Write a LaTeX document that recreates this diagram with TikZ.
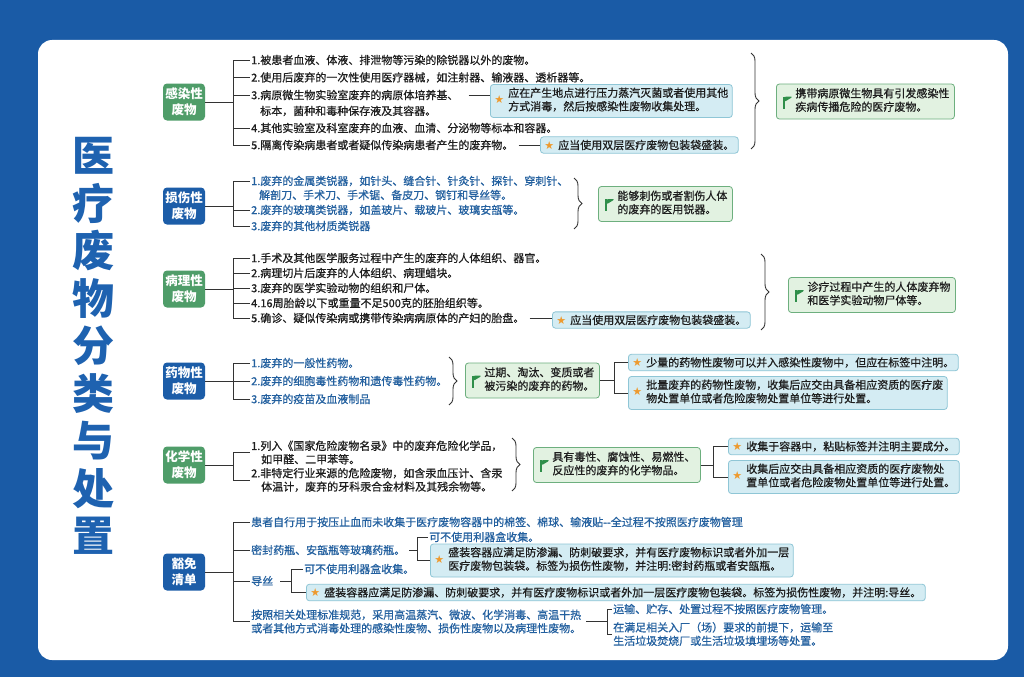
\documentclass[tikz,border=0pt]{standalone}
\usepackage{fontspec}
\newfontfamily\cjk{Noto Sans CJK SC}
\newfontfamily\cjkm{Noto Sans CJK SC}[FakeBold=0.7]
\newfontfamily\sym{DejaVu Sans}
\usetikzlibrary{decorations.pathreplacing}
\definecolor{bgblue}{HTML}{1A5BA6}
\definecolor{titleblue}{HTML}{1E62B0}
\definecolor{catgreen}{HTML}{4F9D69}
\definecolor{catblue}{HTML}{1C5DA8}
\definecolor{itemblue}{HTML}{23609F}
\definecolor{itemblack}{HTML}{1E1E1E}
\definecolor{notefill}{HTML}{D4ECF3}
\definecolor{notebord}{HTML}{8FC6D6}
\definecolor{flagfill}{HTML}{E2F2E1}
\definecolor{flagbord}{HTML}{6DAF7E}
\definecolor{flagc}{HTML}{2F8F4A}
\definecolor{starc}{HTML}{EE9A2E}
\definecolor{linec}{HTML}{333333}
\newcommand\staricon{{\sym\color{starc}★}\hspace{4pt}}
\newcommand\twol[2]{\begin{tabular}{@{}l@{}}#1\\#2\end{tabular}}
\tikzset{
  cat/.style={rounded corners=4pt, minimum width=42pt, minimum height=37pt, inner sep=1pt,
    align=center, text=white, font=\cjk\bfseries\fontsize{12.5}{16}\selectfont},
  catg/.style={cat, fill=catgreen},
  catb/.style={cat, fill=catblue},
  item/.style={anchor=west, inner sep=1pt, align=left, text=itemblack,
    font=\cjkm\fontsize{11}{13.5}\selectfont},
  itemb/.style={item, text=itemblue},
  note/.style={anchor=west, draw=notebord, fill=notefill, rounded corners=3pt, line width=0.8pt,
    inner xsep=4pt, inner ysep=3pt, align=left, text=itemblack, font=\cjkm\fontsize{11}{13.5}\selectfont},
  flagbox/.style={anchor=west, draw=flagbord, fill=flagfill, rounded corners=3pt, line width=0.8pt,
    inner xsep=5pt, inner ysep=4pt, align=left, text=itemblack, font=\cjkm\fontsize{11}{13.5}\selectfont,
    path picture={
      \fill[flagc] ([xshift=7pt,yshift=5pt]path picture bounding box.west) -- ++(10pt,0pt) -- ++(-10pt,-6pt) -- cycle;
      \draw[flagc, line width=1.3pt] ([xshift=7.5pt,yshift=5pt]path picture bounding box.west) -- ++(0pt,-12pt);}},
  link/.style={line width=1pt, draw=linec},
  brc/.style={decorate, decoration={brace, amplitude=8pt}, line width=0.9pt, draw=linec},
  title/.style={align=center, text=titleblue, font=\cjk\bfseries\fontsize{42}{47.5}\selectfont}
}
\begin{document}
\begin{tikzpicture}[x=1pt,y=-1pt]
\useasboundingbox (0,0) rectangle (1024,677);
\fill[bgblue] (0,0) rectangle (1024,677);
\fill[white, rounded corners=14pt] (38,40) rectangle (1008,660);

\node[title] (ttl) at (93,346) {医\\疗\\废\\物\\分\\类\\与\\处\\置};

% 感染性废物
\node[catg] (c1) at (184,102) {感染性\\废物};
\coordinate (s1) at (233,102);
\node[item] (a11) at (250,60) {1.被患者血液、体液、排泄物等污染的除锐器以外的废物。};
\node[item] (a12) at (250,77.5) {2.使用后废弃的一次性使用医疗器械，如注射器、输液器、透析器等。};
\node[item] (a13) at (250,95) {3.病原微生物实验室废弃的病原体培养基、};
\node[item] (a13b) at (259,111) {标本，菌种和毒种保存液及其容器。};
\node[item] (a14) at (250,128) {4.其他实验室及科室废弃的血液、血清、分泌物等标本和容器。};
\node[item] (a15) at (250,145) {5.隔离传染病患者或者疑似传染病患者产生的废弃物。};
\node[note] (n11) at (490,101) {\staricon\twol{应在产生地点进行压力蒸汽灭菌或者使用其他}{方式消毒，然后按感染性废物收集处理。}};
\node[note] (n12) at (540,145) {\staricon 应当使用双层医疗废物包装袋盛装。};
\coordinate (b1t) at (751,53);
\coordinate (b1b) at (751,149);
\node[flagbox] (g1) at (776,101.5) {\hspace*{14pt}\twol{携带病原微生物具有引发感染性}{疾病传播危险的医疗废物。}};
\draw[link] (c1) -- (s1);
\foreach \n in {a11,a12,a13,a14,a15} \draw[link] (s1) |- (\n.west);
\draw[link] ([xshift=9pt]a13.east) -- (a13.east -| n11.west);
\draw[link] ([xshift=4pt]a15.east) -- (n12.west);
\draw[brc] (b1t) -- (b1b);

% 损伤性废物
\node[catb] (c2) at (184,206) {损伤性\\废物};
\coordinate (s2) at (233,206);
\node[itemb] (a21) at (250,181) {1.废弃的金属类锐器，如针头、缝合针、针灸针、探针、穿刺针、};
\node[itemb] (a21b) at (258,195) {解剖刀、手术刀、手术锯、备皮刀、钢钉和导丝等。};
\node[itemb] (a22) at (250,210) {2.废弃的玻璃类锐器，如盖玻片、载玻片、玻璃安瓿等。};
\node[itemb] (a23) at (250,226) {3.废弃的其他材质类锐器};
\coordinate (b2t) at (574,178);
\coordinate (b2b) at (574,229);
\node[flagbox] (g2) at (598,204) {\hspace*{14pt}\twol{能够刺伤或者割伤人体}{的废弃的医用锐器。}};
\draw[link] (c2) -- (s2);
\foreach \n in {a21,a22,a23} \draw[link] (s2) |- (\n.west);
\draw[brc] (b2t) -- (b2b);

% 病理性废物
\node[catg] (c3) at (184,289) {病理性\\废物};
\coordinate (s3) at (233,289);
\node[item] (a31) at (250,258) {1.手术及其他医学服务过程中产生的废弃的人体组织、器官。};
\node[item] (a32) at (250,273) {2.病理切片后废弃的人体组织、病理蜡块。};
\node[item] (a33) at (250,288) {3.废弃的医学实验动物的组织和尸体。};
\node[item] (a34) at (250,303) {4.16周胎龄以下或重量不足500克的胚胎组织等。};
\node[item] (a35) at (250,318) {5.确诊、疑似传染病或携带传染病病原体的产妇的胎盘。};
\node[note] (n31) at (552,320) {\staricon 应当使用双层医疗废物包装袋盛装。};
\coordinate (b3t) at (761,254);
\coordinate (b3b) at (761,330);
\node[flagbox] (g3) at (788,295) {\hspace*{14pt}\twol{诊疗过程中产生的人体废弃物}{和医学实验动物尸体等。}};
\draw[link] (c3) -- (s3);
\foreach \n in {a31,a32,a33,a34,a35} \draw[link] (s3) |- (\n.west);
\draw[link] ([xshift=4pt]a35.east) -- (a35.east -| n31.west);
\draw[brc] (b3t) -- (b3b);

% 药物性废物
\node[catb] (c4) at (184,381) {药物性\\废物};
\coordinate (s4) at (233,381);
\node[itemb] (a41) at (250,363) {1.废弃的一般性药物。};
\node[itemb] (a42) at (250,381) {2.废弃的细胞毒性药物和遗传毒性药物。};
\node[itemb] (a43) at (250,399) {3.废弃的疫苗及血液制品};
\coordinate (b4t) at (449,357);
\coordinate (b4b) at (449,405);
\node[flagbox] (g4) at (465,380.5) {\hspace*{14pt}\twol{过期、淘汰、变质或者}{被污染的废弃的药物。}};
\coordinate (j4) at (614,380.5);
\node[note] (p41) at (628,362.5) {\staricon 少量的药物性废物可以并入感染性废物中，但应在标签中注明。};
\node[note] (p42) at (628,393) {\staricon\twol{批量废弃的药物性废物，收集后应交由具备相应资质的医疗废}{物处置单位或者危险废物处置单位等进行处置。}};
\draw[link] (c4) -- (s4);
\foreach \n in {a41,a42,a43} \draw[link] (s4) |- (\n.west);
\draw[brc] (b4t) -- (b4b);
\draw[link] (g4) -- (j4);
\draw[link] (j4) |- (p41.west);
\draw[link] (j4) |- (p42.west);

% 化学性废物
\node[catg] (c5) at (184,465) {化学性\\废物};
\coordinate (s5) at (233,465);
\node[item] (a51) at (250,452.5) {1.列入《国家危险废物名录》中的废弃危险化学品，\\\hspace*{10pt}如甲醛、二甲苯等。};
\node[item] (a52) at (250,480) {2.非特定行业来源的危险废物，如含汞血压计、含汞\\\hspace*{10pt}体温计，废弃的牙科汞合金材料及其残余物等。};
\coordinate (b5t) at (512,438);
\coordinate (b5b) at (512,491);
\node[flagbox] (g5) at (533,465) {\hspace*{14pt}\twol{具有毒性、腐蚀性、易燃性、}{反应性的废弃的化学物品。}};
\coordinate (j5) at (713,465);
\node[note] (p51) at (728,446.5) {\staricon 收集于容器中，粘贴标签并注明主要成分。};
\node[note] (p52) at (728,477) {\staricon\twol{收集后应交由具备相应资质的医疗废物处}{置单位或者危险废物处置单位等进行处置。}};
\draw[link] (c5) -- (s5);
\foreach \n in {a51,a52} \draw[link] (s5) |- (\n.west);
\draw[brc] (b5t) -- (b5b);
\draw[link] (g5) -- (j5);
\draw[link] (j5) |- (p51.west);
\draw[link] (j5) |- (p52.west);

% 豁免清单
\node[catb] (c6) at (184,572) {豁免\\清单};
\coordinate (s6) at (233,572);
\node[itemb] (a61) at (250,522) {患者自行用于按压止血而未收集于医疗废物容器中的棉签、棉球、输液贴-{}-全过程不按照医疗废物管理};
\node[itemb] (a62) at (250,550) {密封药瓶、安瓿瓶等玻璃药瓶。};
\coordinate (j62) at (417,550);
\node[itemb] (q1) at (428,537) {可不使用利器盒收集。};
\node[note] (r1) at (430,560.5) {\staricon\twol{盛装容器应满足防渗漏、防刺破要求，并有医疗废物标识或者外加一层}{医疗废物包装袋。标签为损伤性废物，并注明:密封药瓶或者安瓿瓶。}};
\node[itemb] (a63) at (250,581) {导丝};
\coordinate (j63) at (291,581);
\node[itemb] (q2) at (303,569) {可不使用利器盒收集。};
\node[note] (r2) at (306,592.5) {\staricon 盛装容器应满足防渗漏、防刺破要求，并有医疗废物标识或者外加一层医疗废物包装袋。标签为损伤性废物，并注明:导丝。};
\node[itemb] (a64) at (250,621.5) {按照相关处理标准规范，采用高温蒸汽、微波、化学消毒、高温干热\\或者其他方式消毒处理的感染性废物、损伤性废物以及病理性废物。};
\coordinate (j64) at (607,621.5);
\node[itemb] (u1) at (612,609) {运输、贮存、处置过程不按照医疗废物管理。};
\node[itemb] (u2) at (612,634) {在满足相关入厂（场）要求的前提下，运输至\\生活垃圾焚烧厂或生活垃圾填埋场等处置。};
\draw[link] (c6) -- (s6);
\foreach \n in {a61,a62,a63,a64} \draw[link] (s6) |- (\n.west);
\draw[link] ([xshift=3pt]a62.east) -- (j62);
\draw[link] (j62) |- (q1.west);
\draw[link] (j62) |- (r1.west);
\draw[link] ([xshift=6pt]a63.east) -- (j63);
\draw[link] (j63) |- (q2.west);
\draw[link] (j63) |- (r2.west);
\draw[link] ([xshift=4pt]a64.east) -- (j64);
\draw[link] (j64) |- (u1.west);
\draw[link] (j64) |- (u2.west);
\end{tikzpicture}
\end{document}
